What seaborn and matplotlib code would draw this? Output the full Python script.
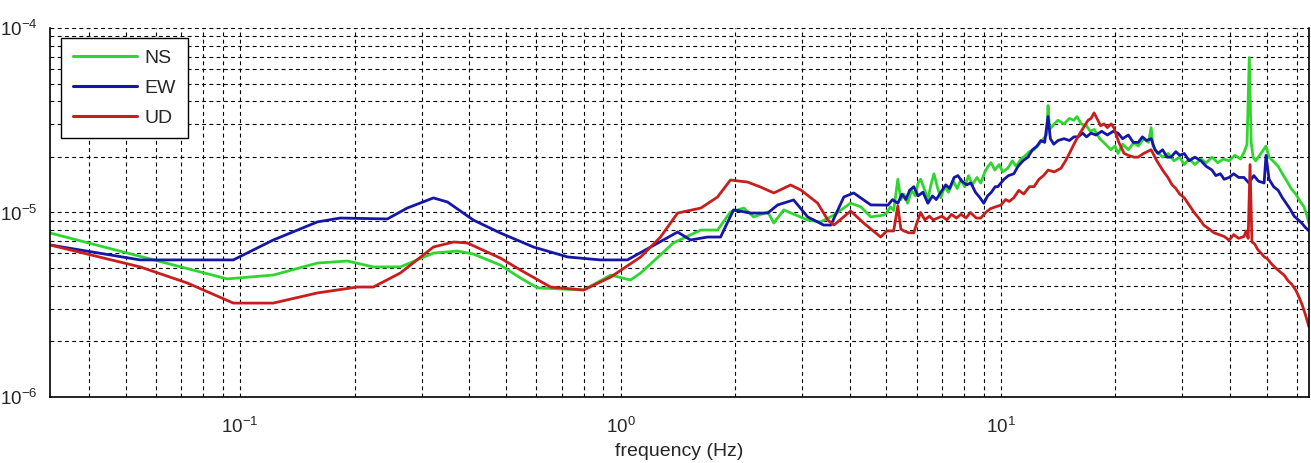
import numpy as np
import pandas as pd
import matplotlib
matplotlib.use("Agg")
import matplotlib.pyplot as plt
import seaborn as sns
from matplotlib.ticker import LogLocator, LogFormatterSciNotation, NullFormatter

# Espectros (log10 de frecuencia en Hz, log10 de amplitud)
ns_logf = [-1.5, -1.034, -0.913, -0.797, -0.718, -0.65, -0.579, -0.492, -0.429, -0.387,
           -0.316, -0.263, -0.218, -0.097, -0.026, 0.026, 0.053, 0.139, 0.211, 0.255,
           0.289, 0.324, 0.35, 0.387, 0.403, 0.429, 0.492, 0.526, 0.561, 0.605,
           0.632, 0.658, 0.692,
           0.70, 0.71, 0.718, 0.729, 0.737, 0.745, 0.755, 0.765, 0.775, 0.782,
           0.789, 0.80, 0.808, 0.816, 0.824, 0.834, 0.842, 0.852, 0.862, 0.875,
           0.885, 0.895, 0.905, 0.915, 0.925, 0.937, 0.947, 0.958, 0.966, 0.974,
           0.984, 0.995, 1.005, 1.018, 1.03, 1.04, 1.053, 1.065, 1.075, 1.087,
           1.10, 1.112, 1.12, 1.124, 1.128, 1.14, 1.15, 1.166, 1.18, 1.192,
           1.20, 1.211, 1.225, 1.235, 1.245, 1.26, 1.275, 1.289, 1.30, 1.308,
           1.32, 1.335, 1.35, 1.361, 1.375, 1.388, 1.395, 1.40, 1.41, 1.425,
           1.44, 1.455, 1.47, 1.482, 1.495, 1.51, 1.526, 1.54, 1.555, 1.57,
           1.585, 1.60, 1.615, 1.63, 1.64, 1.647, 1.653, 1.658, 1.663, 1.67,
           1.68, 1.69, 1.697, 1.705, 1.715, 1.729, 1.74, 1.752, 1.763, 1.775,
           1.787, 1.797, 1.805, 1.81]
ns_logv = [-5.111, -5.360, -5.339, -5.274, -5.263, -5.295, -5.295, -5.220, -5.209, -5.225,
           -5.285, -5.355, -5.409, -5.420, -5.339, -5.366, -5.328, -5.165, -5.095, -5.095,
           -4.997, -4.976, -5.024, -4.997, -5.057, -4.986, -5.041, -5.051, -5.014, -4.949,
           -4.970, -5.024, -5.014,
           -5.00, -4.97, -4.99, -4.82, -4.93, -4.90, -4.95, -4.88, -4.91, -4.84,
           -4.82, -4.88, -4.93, -4.85, -4.79, -4.87, -4.92, -4.86, -4.89, -4.83,
           -4.87, -4.82, -4.86, -4.80, -4.85, -4.81, -4.84, -4.78, -4.75, -4.73,
           -4.77, -4.74, -4.78, -4.76, -4.72, -4.75, -4.71, -4.69, -4.67, -4.66,
           -4.63, -4.60, -4.58, -4.42, -4.55, -4.52, -4.50, -4.52, -4.49, -4.50,
           -4.48, -4.52, -4.53, -4.56, -4.55, -4.60, -4.63, -4.66, -4.64, -4.68,
           -4.63, -4.66, -4.62, -4.64, -4.60, -4.62, -4.54, -4.64, -4.67, -4.70,
           -4.68, -4.72, -4.70, -4.74, -4.71, -4.74, -4.71, -4.73, -4.70, -4.73,
           -4.71, -4.72, -4.69, -4.71, -4.67, -4.63, -4.16, -4.62, -4.70, -4.72,
           -4.69, -4.66, -4.64, -4.70, -4.72, -4.75, -4.79, -4.83, -4.87, -4.90,
           -4.94, -4.97, -5.02, -5.06]

ew_logf = [-1.5, -1.263, -1.018, -0.913, -0.797, -0.737, -0.613, -0.561, -0.492, -0.455,
           -0.387, -0.316, -0.229, -0.139, -0.053, 0.018, 0.079, 0.15, 0.184, 0.229,
           0.263, 0.297, 0.342, 0.387, 0.413, 0.455, 0.492, 0.534, 0.553, 0.587,
           0.613, 0.658,
           0.703, 0.715, 0.729, 0.74, 0.75, 0.76, 0.771, 0.782, 0.795, 0.808,
           0.82, 0.83, 0.842, 0.855, 0.865, 0.877, 0.887, 0.897, 0.91, 0.921,
           0.933, 0.945, 0.955, 0.965, 0.975, 0.985, 0.992, 1.0, 1.008, 1.02,
           1.034, 1.045, 1.058, 1.071, 1.083, 1.095, 1.105, 1.115, 1.124, 1.13,
           1.139, 1.15, 1.166, 1.18, 1.192, 1.203, 1.215, 1.225, 1.237, 1.25,
           1.265, 1.28, 1.295, 1.308, 1.32, 1.335, 1.348, 1.361, 1.372, 1.383,
           1.395, 1.405, 1.413, 1.425, 1.437, 1.447, 1.46, 1.47, 1.482, 1.495,
           1.51, 1.526, 1.54, 1.555, 1.565, 1.577, 1.587, 1.60, 1.612, 1.625,
           1.639, 1.652, 1.665, 1.677, 1.692, 1.697, 1.705, 1.717, 1.729, 1.74,
           1.75, 1.76, 1.771, 1.782, 1.792, 1.80, 1.81]
ew_logv = [-5.176, -5.257, -5.257, -5.149, -5.051, -5.030, -5.035, -4.976, -4.921, -4.943,
           -5.041, -5.111, -5.187, -5.241, -5.257, -5.257, -5.187, -5.106, -5.149, -5.133,
           -5.133, -4.986, -5.003, -5.003, -4.959, -4.932, -5.024, -5.068, -5.068, -4.916,
           -4.894, -4.959,
           -4.96, -4.93, -4.95, -4.90, -4.93, -4.88, -4.86, -4.91, -4.89, -4.95,
           -4.91, -4.93, -4.89, -4.85, -4.87, -4.81, -4.80, -4.83, -4.85, -4.84,
           -4.89, -4.92, -4.95, -4.91, -4.89, -4.86, -4.86, -4.84, -4.82, -4.80,
           -4.79, -4.75, -4.72, -4.70, -4.66, -4.64, -4.61, -4.62, -4.48, -4.60,
           -4.63, -4.61, -4.60, -4.61, -4.59, -4.59, -4.57, -4.59, -4.57, -4.58,
           -4.56, -4.58, -4.56, -4.57, -4.60, -4.58, -4.62, -4.62, -4.59, -4.61,
           -4.60, -4.66, -4.68, -4.66, -4.70, -4.70, -4.67, -4.69, -4.68, -4.72,
           -4.70, -4.72, -4.75, -4.77, -4.80, -4.79, -4.82, -4.81, -4.79, -4.81,
           -4.81, -4.84, -4.80, -4.83, -4.84, -4.69, -4.82, -4.86, -4.88, -4.92,
           -4.95, -4.98, -5.02, -5.04, -5.06, -5.08, -5.10]

ud_logf = [-1.5, -1.263, -1.139, -1.018, -0.913, -0.797, -0.692, -0.65, -0.579, -0.492,
           -0.439, -0.403, -0.316, -0.263, -0.184, -0.097, -0.026, 0.053, 0.105, 0.15,
           0.211, 0.255, 0.289, 0.334, 0.368, 0.403, 0.447, 0.474, 0.518, 0.545,
           0.561, 0.605, 0.639, 0.684,
           0.70, 0.718, 0.729, 0.737, 0.745, 0.758, 0.771, 0.78, 0.789, 0.80,
           0.812, 0.822, 0.834, 0.845, 0.858, 0.87, 0.883, 0.895, 0.908, 0.92,
           0.935, 0.947, 0.96, 0.972, 0.985, 1.0, 1.012, 1.022, 1.034, 1.047,
           1.06, 1.075, 1.087, 1.10, 1.112, 1.124, 1.14, 1.158, 1.17, 1.18,
           1.192, 1.205, 1.217, 1.229, 1.237, 1.245, 1.255, 1.262, 1.271, 1.28,
           1.29, 1.297, 1.31, 1.324, 1.335, 1.35, 1.361, 1.375, 1.385, 1.395,
           1.41, 1.425, 1.439, 1.45, 1.46, 1.47, 1.482, 1.495, 1.508, 1.52,
           1.534, 1.548, 1.56, 1.574, 1.587, 1.60, 1.612, 1.625, 1.639, 1.645,
           1.65, 1.655, 1.66, 1.667, 1.675, 1.684, 1.692, 1.70, 1.712, 1.722,
           1.733, 1.745, 1.755, 1.765, 1.775, 1.782, 1.792, 1.80, 1.81]
ud_logv = [-5.176, -5.295, -5.382, -5.491, -5.491, -5.436, -5.404, -5.404, -5.328, -5.187,
           -5.160, -5.165, -5.247, -5.312, -5.404, -5.420, -5.350, -5.241, -5.133, -5.003,
           -4.976, -4.916, -4.824, -4.835, -4.862, -4.894, -4.851, -4.878, -4.949, -5.041,
           -5.068, -4.992, -5.057, -5.133,
           -5.10, -5.10, -4.965, -5.09, -5.10, -5.11, -5.11, -5.05, -5.00, -5.04,
           -5.02, -5.04, -5.03, -5.02, -5.04, -5.01, -5.03, -5.01, -5.03, -5.00,
           -5.03, -5.03, -5.00, -4.98, -4.97, -4.96, -4.93, -4.94, -4.92, -4.88,
           -4.90, -4.86, -4.86, -4.82, -4.80, -4.77, -4.78, -4.76, -4.72, -4.68,
           -4.63, -4.58, -4.54, -4.50, -4.49, -4.46, -4.50, -4.53, -4.52, -4.54,
           -4.52, -4.54, -4.62, -4.68, -4.69, -4.70, -4.70, -4.68, -4.67, -4.66,
           -4.72, -4.77, -4.81, -4.85, -4.87, -4.90, -4.92, -4.96, -5.00, -5.03,
           -5.07, -5.09, -5.11, -5.12, -5.13, -5.15, -5.12, -5.14, -5.13, -5.10,
           -5.14, -4.74, -5.16, -5.17, -5.20, -5.22, -5.24, -5.25, -5.28, -5.30,
           -5.32, -5.34, -5.37, -5.39, -5.42, -5.45, -5.50, -5.55, -5.62]

components = ["NS", "EW", "UD"]
colores = {"NS": "#2fd62f", "EW": "#1616a8", "UD": "#c81e1e"}

frames = []
for comp, lf, lv in [("NS", ns_logf, ns_logv), ("EW", ew_logf, ew_logv), ("UD", ud_logf, ud_logv)]:
    frames.append(pd.DataFrame({"freq": 10 ** np.array(lf), "amp": 10 ** np.array(lv), "comp": comp}))
df = pd.concat(frames, ignore_index=True)

sns.set_style("white")
plt.rcParams["font.family"] = ["Liberation Sans", "DejaVu Sans"]
plt.rcParams["mathtext.default"] = "regular"

fig = plt.figure(figsize=(13.11, 4.63), dpi=100)
ax = fig.add_axes([50 / 1311, 66 / 463, 1259 / 1311, 369 / 463])

sns.lineplot(data=df, x="freq", y="amp", hue="comp", hue_order=components, palette=colores,
             estimator=None, sort=False, linewidth=2.0, ax=ax)

ax.set_xscale("log")
ax.set_yscale("log")
ax.set_xlim(10 ** -1.5, 10 ** 1.81)
ax.set_ylim(1e-6, 1e-4)

ax.xaxis.set_major_locator(LogLocator(base=10))
ax.yaxis.set_major_locator(LogLocator(base=10))
ax.xaxis.set_minor_locator(LogLocator(base=10, subs=np.arange(2, 10)))
ax.yaxis.set_minor_locator(LogLocator(base=10, subs=np.arange(2, 10)))
ax.xaxis.set_major_formatter(LogFormatterSciNotation())
ax.yaxis.set_major_formatter(LogFormatterSciNotation())
ax.xaxis.set_minor_formatter(NullFormatter())
ax.yaxis.set_minor_formatter(NullFormatter())

ax.grid(True, which="both", color="black", linestyle=(0, (3.5, 3)), linewidth=0.8)
ax.set_axisbelow(True)
ax.tick_params(which="both", direction="in", top=False, right=False, labelsize=13.5, color="black")
ax.tick_params(which="major", length=6, width=0.8)
ax.tick_params(which="minor", length=3, width=0.8)
ax.tick_params(axis="x", pad=14)
ax.tick_params(axis="y", pad=9)

for lado in ["left", "bottom", "right"]:
    ax.spines[lado].set_color("black")
    ax.spines[lado].set_linewidth(1.2)
ax.spines["top"].set_visible(False)

ax.set_xlabel("frequency (Hz)", fontsize=14, labelpad=5)
ax.set_ylabel("")

leg = ax.legend(title=None, loc="upper left", bbox_to_anchor=(0.0087, 0.973), borderaxespad=0,
                fontsize=14, frameon=True, fancybox=False, edgecolor="black", framealpha=1,
                handlelength=3.3, handletextpad=0.4, borderpad=0.6, labelspacing=0.62)
leg.get_frame().set_linewidth(1.0)
for linea in leg.get_lines():
    linea.set_linewidth(2.2)

fig.savefig("out.png", dpi=100)
